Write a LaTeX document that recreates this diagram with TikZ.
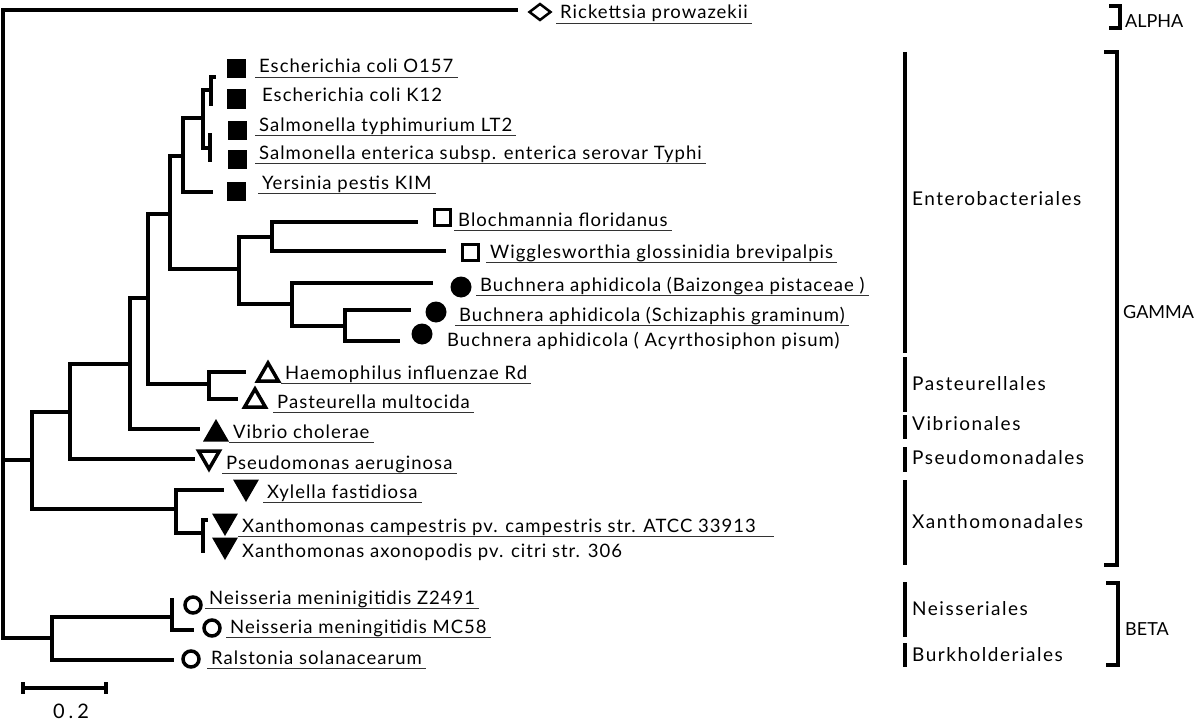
\documentclass[tikz,border=0pt]{standalone}
\usepackage{fontspec}
\setmainfont{Lato}
\newfontfamily\specfont[LetterSpace=5.5]{Lato}
\newfontfamily\orderfont[LetterSpace=8]{Lato}
\newfontfamily\scalefont[LetterSpace=20]{Lato}
\usepackage{tikz}
\usetikzlibrary{shapes.geometric}
\usetikzlibrary{math}

\tikzset{
    branch/.style={line width=3.5pt},
    uline/.style={line width=1pt, black!80},
    orderbar/.style={line width=3.5pt},
    classbar/.style={line width=3.5pt},
    spec/.style={anchor=base west, inner xsep=4pt, inner ysep=0pt, text height=13pt, text depth=4pt, font=\specfont\fontsize{18.5}{20}\selectfont},
    ordertext/.style={anchor=base west, inner sep=0pt, font=\orderfont\fontsize{19}{20}\selectfont},
    classtext/.style={anchor=base west, inner sep=0pt, font=\fontsize{18}{20}\selectfont},
    sqfill/.style={rectangle, fill=black, minimum size=19pt, inner sep=0pt},
    sqopen/.style={rectangle, draw=black, line width=3pt, minimum size=16pt, inner sep=0pt},
    dotfill/.style={circle, fill=black, minimum size=21pt, inner sep=0pt},
    dotopen/.style={circle, draw=black, line width=3.5pt, minimum size=16pt, inner sep=0pt},
    triup/.style={regular polygon, regular polygon sides=3, fill=black, minimum size=30pt, inner sep=0pt},
    tridown/.style={triup, shape border rotate=180},
    triupopen/.style={regular polygon, regular polygon sides=3, draw=black, line width=3.5pt, minimum size=24pt, inner sep=0pt},
    tridownopen/.style={triupopen, shape border rotate=180},
    rhomb/.style={diamond, draw=black, line width=2.5pt, minimum width=22pt, minimum height=17pt, inner sep=0pt},
}

\begin{document}
\begin{tikzpicture}[x=1pt,y=-1pt]
\useasboundingbox (0,0) rectangle (1200,725);

% Column settings
\tikzmath{
    % Order bars
    \xorder = 905;
    \xordertext = 912;
    % Class brackets
    \xclass = 1118;
    \xclassL = 1106;
    \xclasstext = 1124;
}

% Inner nodes of the tree
\coordinate (root) at (3,460);
\coordinate (gG) at (32,460);
\coordinate (n70) at (70,412);
\coordinate (n130) at (130,364);
\coordinate (n148) at (148,298);
\coordinate (n170) at (170,214);
\coordinate (n183) at (183,156);
\coordinate (n203) at (203,118);
\coordinate (n211) at (211,90);
\coordinate (nSal) at (210,148);
\coordinate (n239) at (239,269);
\coordinate (n272) at (272,237);
\coordinate (n292) at (292,304);
\coordinate (n345) at (345,326);
\coordinate (nPast) at (209,384);
\coordinate (nX) at (176,509);
\coordinate (nXan) at (203,533);
\coordinate (gB) at (52,638);
\coordinate (nNei) at (172,617);

% Tips of the tree
\coordinate (tRick) at (518,10);
\coordinate (tEcO) at (216,77);
\coordinate (tEcK) at (211,106);
\coordinate (tSalT) at (210,133);
\coordinate (tSalE) at (210,162);
\coordinate (tYer) at (213,192);
\coordinate (tBlo) at (418,222);
\coordinate (tWig) at (446,251);
\coordinate (tBai) at (433,283);
\coordinate (tSch) at (411,310);
\coordinate (tAcy) at (400,341);
\coordinate (tHae) at (246,372);
\coordinate (tPas) at (238,399);
\coordinate (tVib) at (200,429);
\coordinate (tPseu) at (195,459);
\coordinate (tXyl) at (224,490);
\coordinate (tXc) at (208,520);
\coordinate (tXa) at (203,553);
\coordinate (tNz) at (172,598);
\coordinate (tNm) at (194,630);
\coordinate (tRal) at (174,660);

% Draws the branches
\draw[branch] (root) |- (tRick);
\draw[branch] (root) -- (gG);
\draw[branch] (root) |- (gB);
\draw[branch] (gG) |- (n70);
\draw[branch] (gG) |- (nX);
\draw[branch] (n70) |- (n130);
\draw[branch] (n70) |- (tPseu);
\draw[branch] (n130) |- (n148);
\draw[branch] (n130) |- (tVib);
\draw[branch] (n148) |- (n170);
\draw[branch] (n148) |- (nPast);
\draw[branch] (n170) |- (n183);
\draw[branch] (n170) |- (n239);
\draw[branch] (n183) |- (n203);
\draw[branch] (n183) |- (tYer);
\draw[branch] (n203) |- (n211);
\draw[branch] (n203) |- (nSal);
\draw[branch] (n211) |- (tEcO);
\draw[branch] (n211) |- (tEcK);
\draw[branch] (nSal) |- (tSalT);
\draw[branch] (nSal) |- (tSalE);
\draw[branch] (n239) |- (n272);
\draw[branch] (n239) |- (n292);
\draw[branch] (n272) |- (tBlo);
\draw[branch] (n272) |- (tWig);
\draw[branch] (n292) |- (tBai);
\draw[branch] (n292) |- (n345);
\draw[branch] (n345) |- (tSch);
\draw[branch] (n345) |- (tAcy);
\draw[branch] (nPast) |- (tHae);
\draw[branch] (nPast) |- (tPas);
\draw[branch] (nX) |- (tXyl);
\draw[branch] (nX) |- (nXan);
\draw[branch] (nXan) |- (tXc);
\draw[branch] (nXan) |- (tXa);
\draw[branch] (gB) |- (nNei);
\draw[branch] (gB) |- (tRal);
\draw[branch] (nNei) |- (tNz);
\draw[branch] (nNei) |- (tNm);

% Draws the markers
\node[rhomb] (mRick) at (540,12) {};
\node[sqfill] (mEcO) at (236,69) {};
\node[sqfill] (mEcK) at (236,99) {};
\node[sqfill] (mSalT) at (237,130) {};
\node[sqfill] (mSalE) at (237,159) {};
\node[sqfill] (mYer) at (236,191) {};
\node[sqopen] (mBlo) at (442,217) {};
\node[sqopen] (mWig) at (470,252) {};
\node[dotfill] (mBai) at (461,287) {};
\node[dotfill] (mSch) at (436,312) {};
\node[dotfill] (mAcy) at (422,334) {};
\node[triupopen] (mHae) at (268,375) {};
\node[triupopen] (mPas) at (255,401) {};
\node[triup] (mVib) at (216,434) {};
\node[tridownopen] (mPse) at (209,457) {};
\node[tridown] (mXyl) at (246,487) {};
\node[tridown] (mXc) at (225,521) {};
\node[tridown] (mXa) at (225,545) {};
\node[dotopen] (mNz) at (193,605) {};
\node[dotopen] (mNm) at (212,628) {};
\node[dotopen] (mRal) at (191,659) {};

% Draws the species names
\node[spec] (lRick) at (556,19) {Rickettsia prowazekii};
\node[spec] (lEcO) at (255,73) {Escherichia coli O157};
\node[spec] (lEcK) at (258,101) {Escherichia coli K12};
\node[spec] (lSalT) at (255,131) {Salmonella typhimurium LT2};
\node[spec] (lSalE) at (255,159) {Salmonella enterica subsp. enterica serovar Typhi};
\node[spec] (lYer) at (258,189) {Yersinia pestis KIM};
\node[spec] (lBlo) at (454,226) {Blochmannia floridanus};
\node[spec] (lWig) at (486,258) {Wigglesworthia glossinidia brevipalpis};
\node[spec] (lBai) at (476,291) {Buchnera aphidicola (Baizongea pistaceae )};
\node[spec] (lSch) at (455,321) {Buchnera aphidicola (Schizaphis graminum)};
\node[spec] (lAcy) at (443,346) {Buchnera aphidicola ( Acyrthosiphon pisum)};
\node[spec] (lHae) at (281,379) {Haemophilus influenzae Rd};
\node[spec] (lPas) at (273,408) {Pasteurella multocida};
\node[spec] (lVib) at (229,438) {Vibrio cholerae};
\node[spec] (lPse) at (222,469) {Pseudomonas aeruginosa};
\node[spec] (lXyl) at (263,498) {Xylella fastidiosa};
\node[spec] (lXc) at (238,532) {Xanthomonas campestris pv. campestris str. ATCC 33913};
\node[spec] (lXa) at (238,557) {Xanthomonas axonopodis pv. citri str. 306};
\node[spec] (lNz) at (205,604) {Neisseria meninigitidis Z2491};
\node[spec] (lNm) at (226,633) {Neisseria meningitidis MC58};
\node[spec] (lRal) at (207,664) {Ralstonia solanacearum};

% Underlines
\draw[uline] (lRick.south west) -- (lRick.south east);
\draw[uline] (lEcO.south west) -- (lEcO.south east);
\draw[uline] (lSalT.south west) -- (lSalT.south east);
\draw[uline] (lSalE.south west) -- (lSalE.south east);
\draw[uline] (lYer.south west) -- (lYer.south east);
\draw[uline] (lBlo.south west) -- (lBlo.south east);
\draw[uline] (lWig.south west) -- (lWig.south east);
\draw[uline] (lBai.south west) -- (lBai.south east);
\draw[uline] (lSch.south west) -- (lSch.south east);
\draw[uline] (lHae.south west) -- (lHae.south east);
\draw[uline] (lPas.south west) -- (lPas.south east);
\draw[uline] (lVib.south west) -- (lVib.south east);
\draw[uline] (lPse.south west) -- (lPse.south east);
\draw[uline] (lXyl.south west) -- (lXyl.south east);
\draw[uline] (lXc.south west) -- ([xshift=14pt]lXc.south east);
\draw[uline] (lNz.south west) -- (lNz.south east);
\draw[uline] (lNm.south west) -- (lNm.south east);
\draw[uline] (lRal.south west) -- (lRal.south east);

% Draws the order bars and names
\draw[orderbar] (\xorder,52) -- (\xorder,353);
\draw[orderbar] (\xorder,357) -- (\xorder,412);
\draw[orderbar] (\xorder,415) -- (\xorder,439);
\draw[orderbar] (\xorder,447) -- (\xorder,472);
\draw[orderbar] (\xorder,480) -- (\xorder,565);
\draw[orderbar] (\xorder,582) -- (\xorder,637);
\draw[orderbar] (\xorder,643) -- (\xorder,667);
\node[ordertext] (oEntero) at (\xordertext,205) {Enterobacteriales};
\node[ordertext] (oPast) at (\xordertext,390) {Pasteurellales};
\node[ordertext] (oVib) at (\xordertext,430) {Vibrionales};
\node[ordertext] (oPseu) at (\xordertext,464) {Pseudomonadales};
\node[ordertext] (oXan) at (\xordertext,528) {Xanthomonadales};
\node[ordertext] (oNeis) at (\xordertext,615) {Neisseriales};
\node[ordertext] (oBurk) at (\xordertext,661) {Burkholderiales};

% Draws the class brackets and names
\draw[classbar] (\xclassL+3,6) -- (\xclass+2,6) -- (\xclass+2,28) -- (\xclassL+3,28);
\draw[classbar] (\xclassL-2,52) -- (\xclass-1,52) -- (\xclass-1,565) -- (\xclassL-2,565);
\draw[classbar] (\xclassL,583) -- (\xclass,583) -- (\xclass,665) -- (\xclassL,665);
\node[classtext] (cAlpha) at (\xclasstext+1,28) {ALPHA};
\node[classtext] (cGamma) at (\xclasstext-1,318) {GAMMA};
\node[classtext] (cBeta) at (\xclasstext+1,635) {BETA};

% Scale bar
\coordinate (sbL) at (23,688);
\coordinate (sbR) at (106,688);
\draw[branch] (sbL) -- (sbR);
\draw[branch] ([yshift=6pt]sbL) -- ([yshift=-6pt]sbL);
\draw[branch] ([yshift=6pt]sbR) -- ([yshift=-6pt]sbR);
\node[anchor=base, inner sep=0pt, font=\scalefont\fontsize{20}{22}\selectfont] (lScale) at (71,718) {0.2};

\end{tikzpicture}
\end{document}
